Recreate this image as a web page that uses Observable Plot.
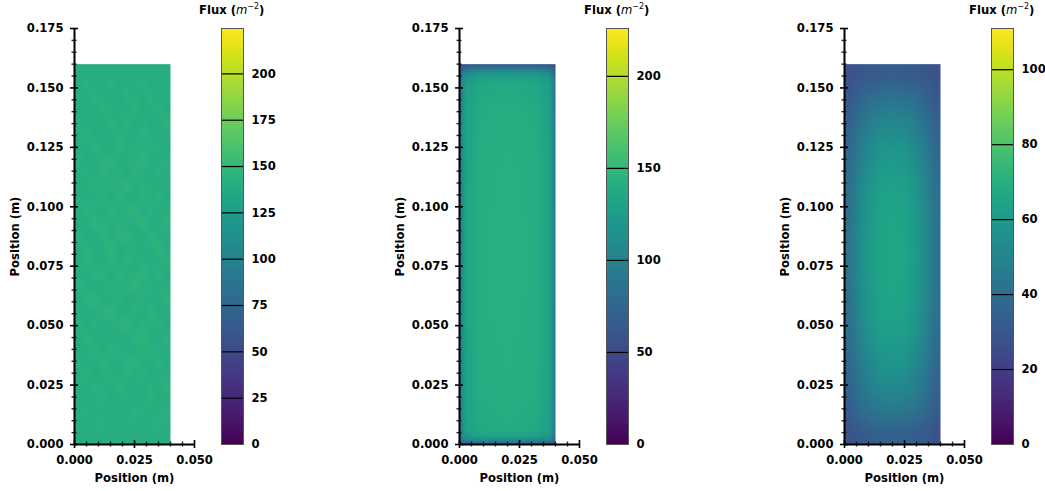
<!DOCTYPE html>
<html><head><meta charset="utf-8">
<script src="https://cdn.jsdelivr.net/npm/d3@7"></script>
<script src="https://cdn.jsdelivr.net/npm/@observablehq/plot@0.6"></script>
<style>
html,body{margin:0;padding:0;background:#fff}
#root{position:relative;width:1045px;height:491px;overflow:hidden}
#root svg{position:absolute;top:0;overflow:visible;background:transparent}
.cbt{position:absolute;top:3px;font:bold 11.6px "DejaVu Sans";white-space:nowrap;color:#000}
.cbt i{font-weight:normal;font-family:"DejaVu Sans"}
.cbt sup{font-size:8px;font-weight:normal;line-height:0}
</style></head><body><div id="root"></div>
<script>
const majorTicks = [0, 0.025, 0.05, 0.075, 0.1, 0.125, 0.15, 0.175];
const minorTicks = [0.005,0.01,0.015,0.02,0.03,0.035,0.04,0.045,0.055,0.06,0.065,0.07,0.08,0.085,0.09,0.095,0.105,0.11,0.115,0.12,0.13,0.135,0.14,0.145,0.155,0.16,0.165,0.17];
const xMajor = [0, 0.025, 0.05];
const xMinor = [0.005,0.01,0.015,0.02,0.03,0.035,0.04,0.045];

// panel 1: regular grid of flux (rows from top to bottom)
const flux1 = [
[141,140,138,142,139,141,138,140,139,142,140,141],
[139,143,140,138,144,140,142,139,143,138,141,139],
[142,138,144,141,139,137,143,141,138,144,139,142],
[138,141,139,144,142,141,139,145,140,141,143,138],
[143,140,142,138,145,139,144,140,142,138,140,144],
[140,144,138,142,140,143,141,138,145,141,139,141],
[139,141,145,140,138,146,140,143,139,144,142,138],
[144,138,141,143,146,139,142,141,147,140,138,143],
[141,143,139,146,140,144,138,145,141,139,144,140],
[138,142,144,139,143,141,147,140,143,142,139,141],
[143,139,141,145,138,146,142,139,144,141,145,138],
[140,145,142,139,144,140,143,146,138,143,140,142],
[139,141,146,143,141,145,139,142,147,140,138,144],
[144,138,140,144,139,143,146,140,141,145,142,139],
[141,143,139,141,147,138,142,144,139,142,146,140],
[138,146,142,140,143,141,145,139,143,140,141,143],
[142,139,144,145,138,146,140,142,146,139,144,138],
[145,141,138,142,144,140,143,147,141,143,140,142],
[139,143,146,139,141,145,138,141,144,139,142,145],
[141,140,141,144,146,139,142,145,138,146,139,141],
[144,138,143,140,142,144,147,139,143,141,144,138],
[140,145,139,142,138,141,140,143,146,140,138,143],
[138,141,144,139,145,143,139,141,142,144,141,140],
[143,139,141,146,140,138,144,146,139,141,145,139],
[141,144,138,142,143,141,145,139,144,138,142,141],
[139,140,143,141,138,144,140,142,139,143,140,144],
[142,138,141,144,140,139,143,138,141,145,139,140],
[140,143,139,140,142,141,138,144,142,139,141,143],
[141,139,142,143,139,140,142,140,139,141,143,139],
[139,141,140,139,141,142,139,141,140,142,139,141]];

// panel 2: samples on a grid that is dense near the edges (rows from bottom to top)
const xs2 = [0,0.0005,0.0015,0.003,0.008,0.014,0.02,0.026,0.032,0.037,0.0385,0.0395,0.04];
const ys2 = [0,0.001,0.002,0.0035,0.006,0.02,0.04,0.06,0.08,0.1,0.12,0.14,0.152,0.155,0.157,0.159,0.16];
const flux2 = [
[52,56,60,63,66,68,68,67,65,62,59,55,52],
[60,68,76,84,90,92,93,92,90,84,76,68,60],
[66,82,96,106,112,113,113,112,110,104,96,82,66],
[72,92,110,122,128,130,131,130,127,120,108,92,72],
[76,98,116,130,136,138,139,138,136,128,116,98,76],
[77,100,118,132,139,140,141,140,139,131,118,99,77],
[77,100,118,132,140,141,142,141,140,132,118,99,77],
[77,100,118,133,140,142,143,142,140,132,118,100,77],
[77,100,118,133,141,142,143,142,141,132,118,100,77],
[77,100,118,133,140,142,143,142,140,132,118,100,77],
[77,100,118,132,140,141,142,141,140,132,118,99,76],
[76,99,117,131,138,140,140,140,138,130,117,98,75],
[72,94,112,126,134,136,137,136,134,126,112,93,72],
[67,86,104,117,124,127,127,127,124,116,103,85,67],
[61,76,90,100,107,109,110,109,105,100,89,75,61],
[54,61,68,72,75,77,77,76,74,71,67,61,54],
[49,52,55,58,60,62,62,61,60,57,55,52,49]];

// panel 3: regular grid (rows from top to bottom)
const flux3 = [
[28,30,31,32,33,32,31,30,28],
[31,36,40,42,43,42,40,36,31],
[34,42,47,50,51,50,47,42,34],
[37,46,52,56,57,56,52,46,37],
[39,49,56,60,61,60,56,49,39],
[41,52,59,63,64,63,59,52,41],
[42,53,60,64,65,64,60,53,42],
[43,54,61,65,66,65,61,54,43],
[43,55,62,65,66,65,62,54,43],
[43,54,61,65,66,65,61,54,43],
[42,53,60,64,65,64,60,53,42],
[41,52,59,63,64,63,59,52,41],
[39,49,56,60,61,60,56,49,39],
[37,46,52,56,57,56,52,46,37],
[35,43,48,51,52,51,48,43,35],
[32,38,41,44,45,44,41,38,32],
[28,31,33,34,34,34,33,31,28]];

const panels = [
  {left:0,   grid:flux1, max:224.5, cbTicks:[0,25,50,75,100,125,150,175,200]},
  {left:385, xs:xs2, ys:ys2, flux:flux2, max:226, cbTicks:[0,50,100,150,200]},
  {left:770, grid:flux3, max:111, cbTicks:[0,20,40,60,80,100]}
];
const font = {fontFamily:'"DejaVu Sans"',fontWeight:'bold',fontSize:'11.6px',color:'#000',background:'transparent'};
const root = document.getElementById('root');

function heatMark(p) {
  if (p.grid) {
    return Plot.raster(p.grid.flat(),{width:p.grid[0].length,height:p.grid.length,x1:0,x2:0.04,y1:0.16,y2:0,fill:d=>d});
  }
  const samples = p.ys.flatMap((y,i)=>p.xs.map((x,j)=>({x,y,v:p.flux[i][j]})));
  return Plot.raster(samples,{x:'x',y:'y',fill:'v',x1:0,x2:0.04,y1:0,y2:0.16,interpolate:'barycentric'});
}

for (const p of panels) {
  const heat = Plot.plot({
    width:220,height:491,marginLeft:74,marginRight:26,marginTop:28,marginBottom:47,
    style:font,
    x:{domain:[0,0.05],label:null},
    y:{domain:[0,0.175],label:null},
    color:{type:'linear',scheme:'viridis',domain:[0,p.max]},
    marks:[
      heatMark(p),
      Plot.axisY(minorTicks,{tickSize:5,dx:2.5,text:null,strokeWidth:1.4,stroke:'#222',label:null}),
      Plot.axisY(majorTicks,{tickSize:8,dx:4,text:null,strokeWidth:1.6,stroke:'#000',label:null}),
      Plot.axisX(xMinor,{tickSize:5,dy:-2.5,text:null,strokeWidth:1.4,stroke:'#222',label:null}),
      Plot.axisX(xMajor,{tickSize:8,dy:-4,text:null,strokeWidth:1.6,stroke:'#000',label:null}),
      Plot.axisY(majorTicks,{tickSize:0,tickPadding:11,tickFormat:d3.format('.3f'),fill:'#000',label:'Position (m)',labelAnchor:'center',labelArrow:'none',labelOffset:64}),
      Plot.axisX(xMajor,{tickSize:0,tickPadding:11,tickFormat:d3.format('.3f'),fill:'#000',label:'Position (m)',labelAnchor:'center',labelArrow:'none',labelOffset:37}),
      Plot.ruleX([0],{y1:0,y2:0.175,strokeWidth:2,stroke:'#000'}),
      Plot.ruleY([0],{x1:0,x2:0.05,strokeWidth:2,stroke:'#000'})
    ]
  });
  heat.style.left = p.left+'px';
  root.appendChild(heat);

  const levels = d3.range(256).map(i=>({y1:i/256*p.max,y2:Math.min((i+1.5)/256*p.max,p.max),c:(i+0.5)/256*p.max}));
  const bar = Plot.plot({
    width:70,height:491,marginLeft:2,marginRight:46,marginTop:28,marginBottom:47,
    style:font,
    x:{domain:[0,1],axis:null},
    y:{domain:[0,p.max],label:null},
    color:{type:'linear',scheme:'viridis',domain:[0,p.max]},
    marks:[
      Plot.rectY(levels,{x1:0,x2:1,y1:'y1',y2:'y2',fill:'c'}),
      Plot.ruleY(p.cbTicks.filter(t=>t>0),{stroke:'#000',strokeWidth:1.2}),
      Plot.axisY(p.cbTicks,{anchor:'right',tickSize:0,tickPadding:8,fill:'#000',label:null,tickFormat:d3.format('d')}),
      Plot.frame({stroke:'#555',strokeWidth:1})
    ]
  });
  bar.style.left = (p.left+219)+'px';
  root.appendChild(bar);

  const t = document.createElement('div');
  t.className='cbt';
  t.style.left=(p.left+199)+'px';
  t.innerHTML='Flux (<i>m</i><sup>−2</sup>)';
  root.appendChild(t);
}
</script></body></html>
